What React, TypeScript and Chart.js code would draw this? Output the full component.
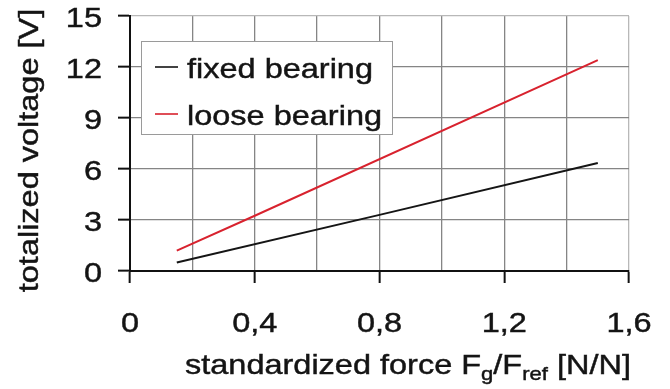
import React, { useEffect, useRef } from "react";
import { Chart, registerables } from "chart.js";

Chart.register(...registerables);

// ---- data ----
const seriesLabels = ["fixed bearing", "loose bearing"];
const fixedX = [0.15, 0.8, 1.5];
const fixedY = [0.5, 3.3, 6.35];
const looseX = [0.15, 0.4, 1.5];
const looseY = [1.2, 3.25, 12.4];
const xTickValues = [0, 0.4, 0.8, 1.2, 1.6];
const xTickLabels = ["0", "0,4", "0,8", "1,2", "1,6"];
const yTickValues = [0, 3, 6, 9, 12, 15];
const yTickLabels = ["0", "3", "6", "9", "12", "15"];
const yTitle = "totalized voltage [V]";
const xTitleParts: [string, boolean][] = [
  ["standardized force F", false],
  ["g", true],
  ["/F", false],
  ["ref", true],
  [" [N/N]", false],
];

const FONT = "Liberation Sans, Arial, sans-serif";
const FS = 28;
const SUB = 19;
const SX = 1.16;
const TXT = "#141414";

function fillBold(ctx: CanvasRenderingContext2D, t: string, x: number, y: number) {
  ctx.fillText(t, x, y);
  ctx.strokeText(t, x, y);
}

function sText(ctx: CanvasRenderingContext2D, t: string, x: number, y: number, align: CanvasTextAlign) {
  ctx.save();
  ctx.translate(x, y);
  ctx.scale(SX, 1);
  ctx.textAlign = align;
  ctx.textBaseline = "alphabetic";
  fillBold(ctx, t, 0, 0);
  ctx.restore();
}

const textPlugin = {
  id: "customText",
  afterDraw(chart: any) {
    const ctx: CanvasRenderingContext2D = chart.ctx;
    const xs = chart.scales.x;
    const ys = chart.scales.y;
    const ca = chart.chartArea;
    ctx.save();
    ctx.fillStyle = TXT;
    ctx.strokeStyle = TXT;
    ctx.lineWidth = 0.45;
    ctx.font = `${FS}px ${FONT}`;
    // y tick labels
    yTickValues.forEach((v, i) => {
      const py = ys.getPixelForValue(v);
      sText(ctx, yTickLabels[i], ca.left - 28, py + 10.5, "right");
    });
    // x tick labels
    xTickValues.forEach((v, i) => {
      const px = xs.getPixelForValue(v);
      sText(ctx, xTickLabels[i], px, ca.bottom + 61, "center");
    });
    // y title
    ctx.save();
    ctx.translate(38, (ca.top + ca.bottom) / 2 + 7);
    ctx.rotate(-Math.PI / 2);
    ctx.scale(SX, 1);
    ctx.textAlign = "center";
    ctx.textBaseline = "alphabetic";
    fillBold(ctx, yTitle, 0, 0);
    ctx.restore();
    // x title with subscripts
    ctx.save();
    ctx.translate(ca.left + 55, ca.bottom + 103);
    ctx.scale(SX, 1);
    ctx.textAlign = "left";
    ctx.textBaseline = "alphabetic";
    let cx = 0;
    xTitleParts.forEach(([t, sub]) => {
      ctx.font = `${sub ? SUB : FS}px ${FONT}`;
      fillBold(ctx, t, cx, sub ? 6 : 0);
      cx += ctx.measureText(t).width;
    });
    ctx.restore();
    // legend
    const lx = ca.left + 11;
    const ly = ca.top + 25;
    const lw = 251;
    const lh = 93;
    ctx.fillStyle = "#ffffff";
    ctx.fillRect(lx, ly, lw, lh);
    ctx.strokeStyle = "#9a9a9a";
    ctx.lineWidth = 1;
    ctx.strokeRect(lx + 0.5, ly + 0.5, lw, lh);
    ctx.font = `${FS}px ${FONT}`;
    chart.data.datasets.forEach((ds: any, i: number) => {
      const base = ly + 37 + i * 47;
      ctx.strokeStyle = ds.borderColor;
      ctx.lineWidth = 1.6;
      ctx.beginPath();
      ctx.moveTo(lx + 14, base - 11);
      ctx.lineTo(lx + 37, base - 11);
      ctx.stroke();
      ctx.fillStyle = TXT;
      ctx.strokeStyle = TXT;
      ctx.lineWidth = 0.45;
      sText(ctx, ds.label, lx + 46, base, "left");
    });
    ctx.restore();
  },
};

export default function App() {
  const ref = useRef<HTMLCanvasElement>(null);
  useEffect(() => {
    document.body.style.margin = "0";
    const canvas = ref.current!;
    const chart = new Chart(canvas, {
      type: "line",
      data: {
        datasets: [
          {
            label: seriesLabels[0],
            data: fixedX.map((x, i) => ({ x, y: fixedY[i] })),
            borderColor: "#151515",
            borderWidth: 2,
            pointRadius: 0,
            tension: 0,
          },
          {
            label: seriesLabels[1],
            data: looseX.map((x, i) => ({ x, y: looseY[i] })),
            borderColor: "#d8222e",
            borderWidth: 2,
            pointRadius: 0,
            tension: 0,
          },
        ],
      },
      options: {
        responsive: false,
        animation: false,
        layout: { padding: { left: 118, right: 41, top: 16, bottom: 106 } },
        plugins: { legend: { display: false }, tooltip: { enabled: false } },
        scales: {
          x: {
            type: "linear",
            min: 0,
            max: 1.6,
            ticks: { display: false, stepSize: 0.2 },
            grid: {
              color: (c: any) => (Math.abs(c.tick.value - 1.6) < 1e-6 ? "#b8b8b8" : "#858585"),
              lineWidth: 1.3,
              drawTicks: true,
              tickLength: 12,
              tickWidth: 2,
              tickColor: (c: any) =>
                Math.abs(Math.round(c.tick.value * 10) % 4) === 0 ? "#111" : "rgba(0,0,0,0)",
            },
            border: { color: "#111", width: 2 },
          },
          y: {
            type: "linear",
            min: 0,
            max: 15,
            ticks: { display: false, stepSize: 3 },
            grid: {
              color: (c: any) => (c.tick.value === 15 ? "#b8b8b8" : "#858585"),
              lineWidth: 1.3,
              drawTicks: true,
              tickLength: 12,
              tickWidth: 2,
              tickColor: "#111",
            },
            border: { color: "#111", width: 2 },
          },
        },
      },
      plugins: [textPlugin],
    } as any);
    return () => chart.destroy();
  }, []);
  return <canvas ref={ref} width={670} height={389} style={{ display: "block" }} />;
}
